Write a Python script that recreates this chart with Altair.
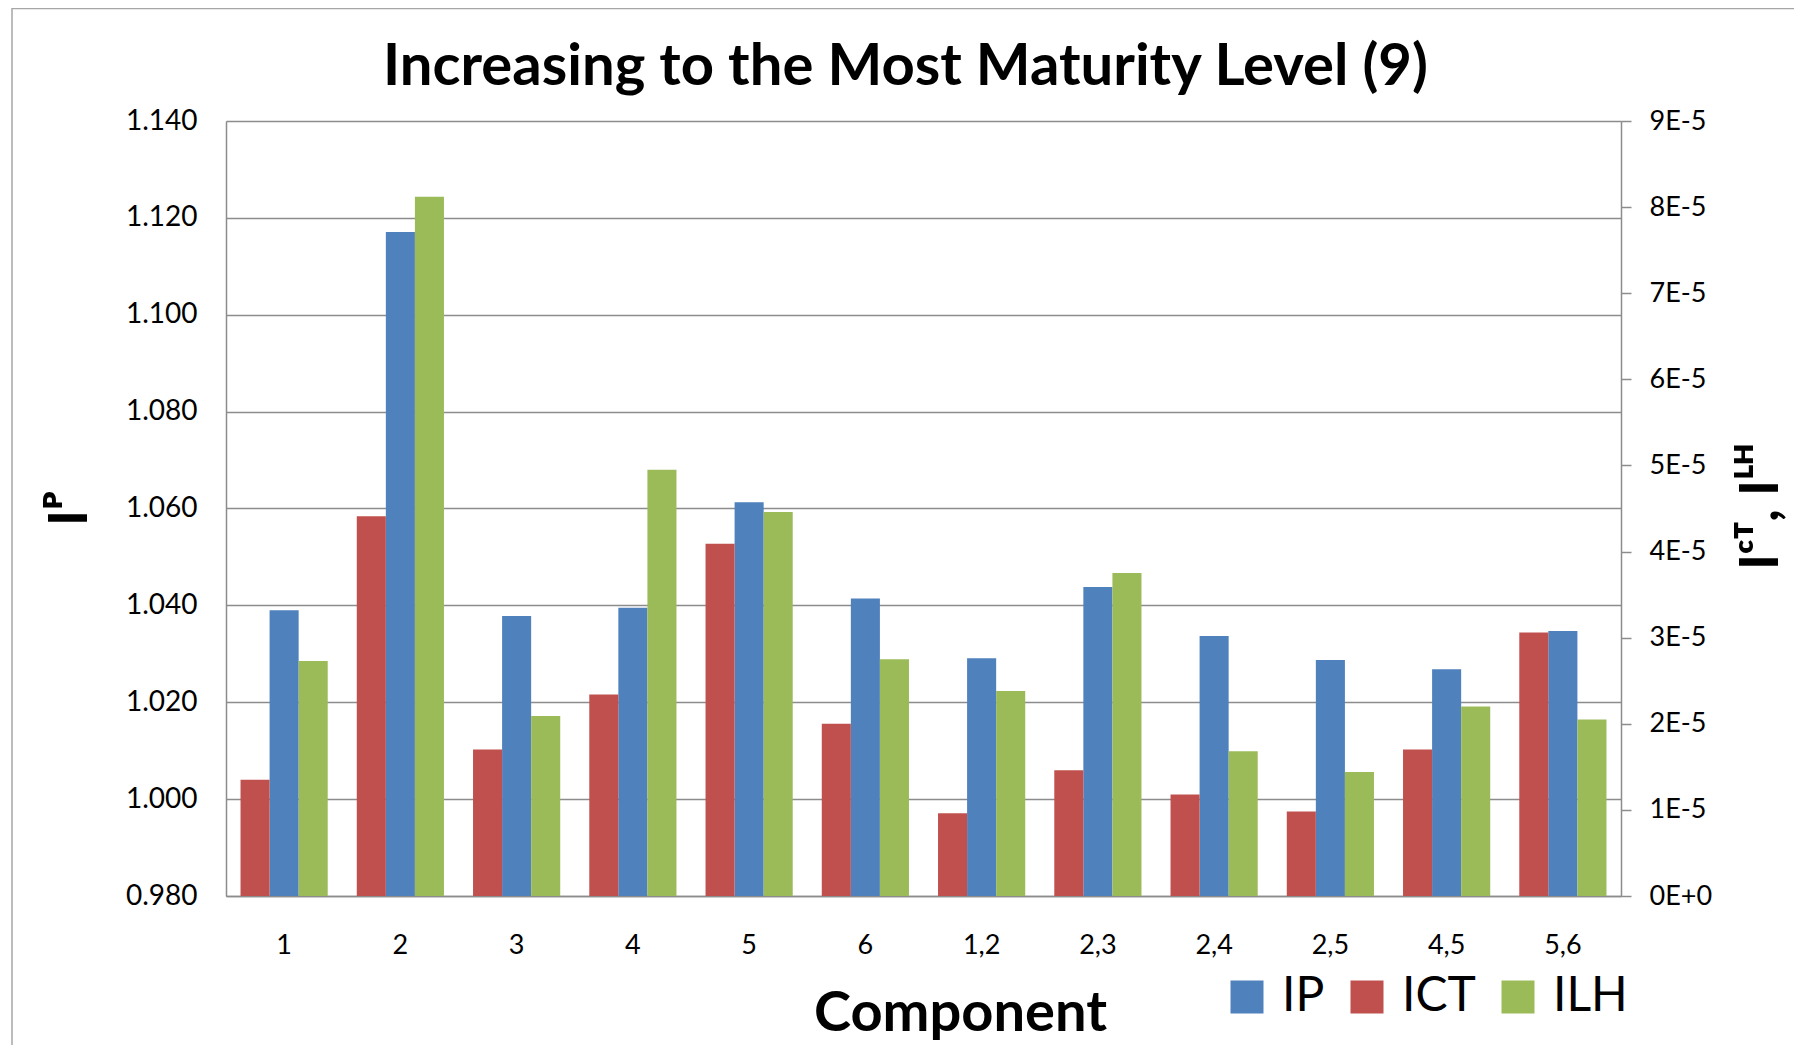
import altair as alt
import pandas as pd

# ---- data ----
categories = ["1", "2", "3", "4", "5", "6", "1,2", "2,3", "2,4", "2,5", "4,5", "5,6"]
ip_values = [1.0390, 1.1171, 1.0378, 1.0395, 1.0613, 1.0414, 1.0291, 1.0438, 1.0337, 1.0287, 1.0268, 1.0347]
ict_values = [1.35e-5, 4.41e-5, 1.70e-5, 2.34e-5, 4.09e-5, 2.00e-5, 0.96e-5, 1.46e-5, 1.18e-5, 0.98e-5, 1.70e-5, 3.06e-5]
ilh_values = [2.73e-5, 8.12e-5, 2.09e-5, 4.95e-5, 4.46e-5, 2.75e-5, 2.38e-5, 3.75e-5, 1.68e-5, 1.44e-5, 2.20e-5, 2.05e-5]
bar_order = ["ICT", "IP", "ILH"]
legend_order = ["IP", "ICT", "ILH"]
series_colors = ["#4F81BD", "#C0504D", "#9BBB59"]
left_ticks = [0.98, 1.00, 1.02, 1.04, 1.06, 1.08, 1.10, 1.12, 1.14]
right_ticks = [0, 1e-5, 2e-5, 3e-5, 4e-5, 5e-5, 6e-5, 7e-5, 8e-5, 9e-5]

ip_df = pd.DataFrame({"Component": categories, "series": "IP", "value": ip_values})
right_df = pd.concat([
    pd.DataFrame({"Component": categories, "series": "ICT", "value": ict_values}),
    pd.DataFrame({"Component": categories, "series": "ILH", "value": ilh_values}),
], ignore_index=True)

W, H = 1395, 775
FONT = "Lato"
GRAY = "#8c8c8c"

x_enc = alt.X(
    "Component:N", sort=categories,
    scale=alt.Scale(paddingInner=0.25, paddingOuter=0.125),
    axis=alt.Axis(
        title="Component", titleFontSize=56, titleFontWeight="bold", titleFont=FONT,
        titleX=734, titleY=134, titleBaseline="alphabetic", titleAlign="center",
        labelFontSize=27, labelAngle=0, labelPadding=36, ticks=False,
        domainColor=GRAY, domainWidth=1.5, labelColor="#000000", titleColor="#000000",
    ),
)
xoff_enc = alt.XOffset("series:N", scale=alt.Scale(domain=bar_order, paddingInner=0, paddingOuter=0))
color_enc = alt.Color(
    "series:N",
    scale=alt.Scale(domain=legend_order, range=series_colors),
    legend=alt.Legend(
        title=None, orient="none", direction="horizontal", legendX=997, legendY=852,
        symbolType="square", symbolSize=1089, symbolStrokeWidth=0, symbolOpacity=1,
        labelFontSize=48, labelFont=FONT, labelOffset=11, columnPadding=18, padding=0,
        labelColor="#000000",
    ),
)

left = alt.Chart(ip_df).mark_bar().encode(
    x=x_enc,
    xOffset=xoff_enc,
    y=alt.Y(
        "value:Q",
        scale=alt.Scale(domain=[0.98, 1.14], zero=False, nice=False),
        axis=alt.Axis(
            orient="left", values=left_ticks, format=".3f", grid=True, gridColor=GRAY, gridWidth=1.5,
            ticks=False, labelFontSize=28, labelPadding=29, domainColor=GRAY, domainWidth=1.5,
            labelColor="#000000",
            title="Iᴾ", titleFontSize=54, titleFontWeight="bold", titleColor="#000000",
            titleAngle=270, titleX=-156, titleY=387, titleAlign="center", titleBaseline="middle",
        ),
    ),
    y2=alt.datum(0.98),
    color=color_enc,
)

right = alt.Chart(right_df).mark_bar().encode(
    x=x_enc,
    xOffset=xoff_enc,
    y=alt.Y(
        "value:Q",
        scale=alt.Scale(domain=[0, 9e-5], nice=False),
        axis=alt.Axis(
            orient="right", values=right_ticks, grid=False,
            labelExpr="datum.value == 0 ? '0E+0' : round(datum.value * 100000) + 'E-5'",
            ticks=True, tickSize=10, tickColor=GRAY, tickWidth=1.5,
            labelFontSize=27, labelPadding=18, domainColor=GRAY, domainWidth=1.5,
            labelColor="#000000",
            title="Iᶜᵀ, Iᴸᴴ", titleFontSize=54, titleFontWeight="bold", titleColor="#000000",
            titleAngle=270, titleX=140, titleY=385, titleAlign="center", titleBaseline="middle",
        ),
    ),
    color=color_enc,
)

frame_df = pd.DataFrame({"k": [0]})
frame_left = alt.Chart(frame_df).mark_rule(color="#a6a6a6", strokeWidth=1.5).encode(
    x=alt.value(-214), y=alt.value(-113), y2=alt.value(H + 149)
)
frame_top = alt.Chart(frame_df).mark_rule(color="#a6a6a6", strokeWidth=1.5).encode(
    x=alt.value(-214), x2=alt.value(W + 173), y=alt.value(-112.5)
)

chart = alt.layer(left, right, frame_left, frame_top).resolve_scale(
    y="independent"
).properties(
    width=W, height=H,
    title=alt.TitleParams(
        "Increasing to the Most Maturity Level (9)", fontSize=58, fontWeight="bold",
        font=FONT, anchor="middle", dx=-18, dy=136, offset=0, baseline="alphabetic", color="#000000",
    ),
    autosize=alt.AutoSizeParams(type="none"),
    padding={"left": 218, "top": 113, "right": 173, "bottom": 149},
).configure(
    font=FONT, background="#ffffff"
).configure_view(stroke=None).configure_axis(labelFont=FONT, titleFont=FONT)

chart.save("out.html", embed_options={"renderer": "svg", "actions": False})
